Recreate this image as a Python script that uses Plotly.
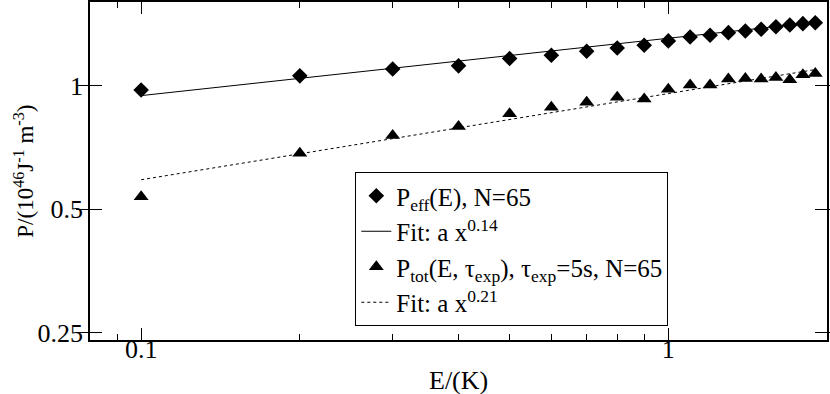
import plotly.graph_objects as go

# Data
energy = [0.1, 0.2, 0.3, 0.4, 0.5, 0.6, 0.7, 0.8, 0.9, 1.0,
          1.1, 1.2, 1.3, 1.4, 1.5, 1.6, 1.7, 1.8, 1.9]
p_eff = [0.976, 1.057, 1.098, 1.118, 1.165, 1.187, 1.214, 1.236, 1.255, 1.286,
         1.315, 1.328, 1.347, 1.360, 1.373, 1.393, 1.406, 1.417, 1.424]
p_tot = [0.536, 0.685, 0.756, 0.795, 0.854, 0.886, 0.911, 0.937, 0.928, 0.981,
         1.004, 1.004, 1.038, 1.042, 1.038, 1.048, 1.034, 1.063, 1.071]
fit_x = [0.1, 1.9]
fit_eff = [0.946, 1.428]
fit_tot = [0.590, 1.095]

x_tickvals = [0.1, 1]
x_ticktext = ["0.1", "1"]
x_minor = [0.09, 0.2, 0.3, 0.4, 0.5, 0.6, 0.7, 0.8, 0.9, 2]
y_tickvals = [0.25, 0.5, 1]
y_ticktext = ["0.25", "0.5", "1"]

FONT = "Liberation Serif"
X_RANGE = [-1.097, 0.301]

fig = go.Figure()
fig.add_trace(go.Scatter(
    x=energy, y=p_eff, mode="markers",
    marker=dict(symbol="diamond", size=12, color="black"),
    name="P<sub>eff</sub>(E), N=65"))
fig.add_trace(go.Scatter(
    x=fit_x, y=fit_eff, mode="lines", xaxis="x2",
    line=dict(color="black", width=1),
    name="Fit: a x<sup>0.14</sup>"))
fig.add_trace(go.Scatter(
    x=energy, y=p_tot, mode="markers",
    marker=dict(symbol="triangle-up", size=13, color="black"),
    name="P<sub>tot</sub>(E, τ<sub>exp</sub>), τ<sub>exp</sub>=5s, N=65"))
fig.add_trace(go.Scatter(
    x=fit_x, y=fit_tot, mode="lines", xaxis="x2",
    line=dict(color="black", width=1, dash="dot"),
    name="Fit: a x<sup>0.21</sup>"))

axis_common = dict(
    showline=True, linecolor="black", linewidth=1.5, mirror="allticks",
    ticks="inside", ticklen=12, tickwidth=1, tickcolor="black",
    showgrid=False, zeroline=False, automargin=False,
    tickfont=dict(family=FONT, size=26, color="black"),
)

fig.update_layout(
    xaxis=dict(
        type="log", range=X_RANGE,
        tickmode="array", tickvals=x_tickvals, ticktext=x_ticktext,
        showticklabels=False,
        minor=dict(tickmode="array", tickvals=x_minor, ticks="inside",
                   ticklen=6, tickcolor="black", tickwidth=1, showgrid=False),
        **axis_common),
    # carries the x tick labels, nudged closer to the axis line
    xaxis2=dict(
        type="log", range=X_RANGE, overlaying="x", anchor="free",
        position=0.026, side="bottom",
        tickmode="array", tickvals=x_tickvals, ticktext=x_ticktext,
        ticks="", showline=False, showgrid=False, zeroline=False,
        automargin=False,
        tickfont=dict(family=FONT, size=26, color="black")),
    yaxis=dict(
        type="log", range=[-0.6198, 0.2041],
        tickmode="array", tickvals=y_tickvals, ticktext=y_ticktext,
        **axis_common),
)

fig.add_annotation(
    text="E/(K)", xref="paper", yref="paper", x=0.5, y=-0.12,
    xanchor="center", yanchor="middle", showarrow=False,
    font=dict(family=FONT, size=26, color="black"))
fig.add_annotation(
    text="P/(10<sup>46</sup>J<sup>-1</sup> m<sup>-3</sup>)",
    xref="paper", yref="paper", x=-0.09, y=0.5, textangle=-90,
    xanchor="center", yanchor="middle", showarrow=False,
    font=dict(family=FONT, size=23, color="black"))

fig.update_layout(
    width=830, height=394,
    margin=dict(l=90, r=3, t=2, b=54),
    paper_bgcolor="white", plot_bgcolor="white",
    font=dict(family=FONT, size=26, color="black"),
    showlegend=True,
    legend=dict(
        x=0.36, y=0.497, xanchor="left", yanchor="top",
        bgcolor="white", bordercolor="black", borderwidth=1,
        font=dict(family=FONT, size=25, color="black"),
        itemwidth=30, tracegroupgap=0,
    ),
)

fig.write_html("out.html",
               config={"displayModeBar": False},
               post_script="document.body.style.margin='0';"
                           "document.body.style.padding='0';")
